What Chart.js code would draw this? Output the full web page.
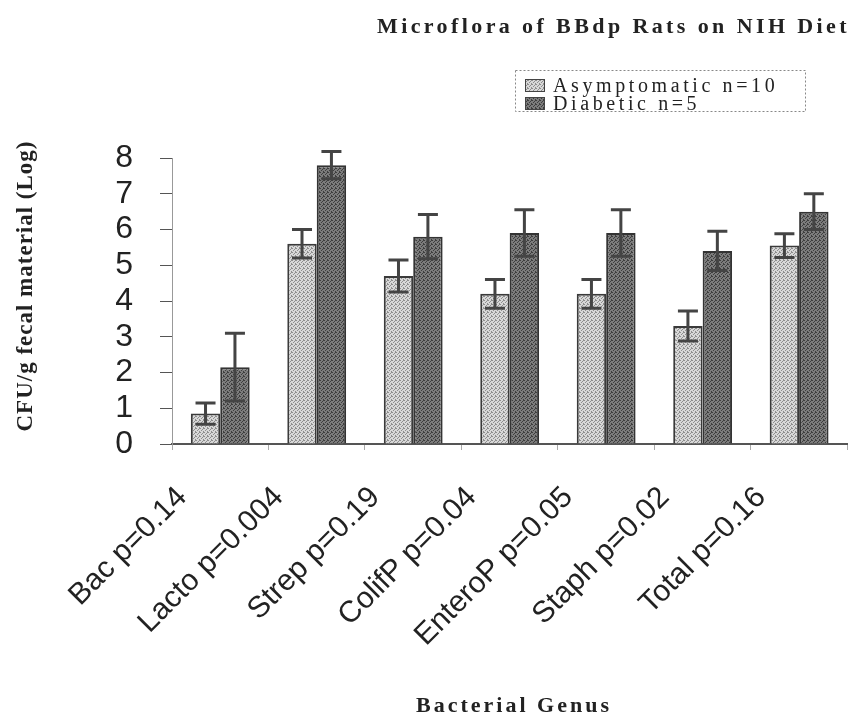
<!DOCTYPE html>
<html>
<head>
<meta charset="utf-8">
<script src="https://cdn.jsdelivr.net/npm/chart.js@4.4.0/dist/chart.umd.min.js"></script>
<style>
    html, body { margin: 0; padding: 0; background: #fff; }
</style>
</head>
<body>
<canvas id="grafico" width="855" height="722"></canvas>
<script>
// Dados
var categorias = ['Bac p=0.14', 'Lacto p=0.004', 'Strep p=0.19', 'ColifP p=0.04', 'EnteroP p=0.05', 'Staph p=0.02', 'Total p=0.16']
var assintomatico = [0.85, 5.6, 4.7, 4.2, 4.2, 3.3, 5.55]
var assintomaticoErro = [0.3, 0.4, 0.45, 0.4, 0.4, 0.42, 0.33]
var diabetico = [2.15, 7.8, 5.8, 5.9, 5.9, 5.4, 6.5]
var diabeticoErro = [0.95, 0.38, 0.62, 0.65, 0.65, 0.55, 0.5]
var escalaY = { min: 0, max: 8, passo: 1 }

var tituloGrafico = 'Microflora of BBdp Rats on NIH Diet'
var tituloX = 'Bacterial Genus'
var tituloY = 'CFU/g fecal material (Log)'
var legendas = ['Asymptomatic n=10', 'Diabetic n=5']

var canvas = document.getElementById('grafico')
var ctxGrafico = canvas.getContext('2d')

// Textura pontilhada das barras
function padrao(base, ponto) {
    let c = document.createElement('canvas')
    c.width = 4
    c.height = 4
    let ctx = c.getContext('2d')
    ctx.fillStyle = base
    ctx.fillRect(0, 0, 4, 4)
    ctx.fillStyle = ponto
    let pontos = [[0, 0], [2, 1], [1, 2], [3, 3], [3, 0]]
    pontos.forEach(p => ctx.fillRect(p[0], p[1], 1, 1))
    return ctxGrafico.createPattern(c, 'repeat')
}
var corClara = padrao('#d8d8d8', '#8e8e8e')
var corEscura = padrao('#7c7c7c', '#3e3e3e')

// Barras de erro (desenhadas pela escala y)
var barrasErro = {
    id: 'barrasErro',
    afterDatasetsDraw(chart) {
        let ctx = chart.ctx
        let y = chart.scales.y
        let erros = [assintomaticoErro, diabeticoErro]
        ctx.save()
        ctx.strokeStyle = '#444'
        ctx.lineWidth = 3
        chart.data.datasets.forEach((ds, i) => {
            let meta = chart.getDatasetMeta(i)
            meta.data.forEach((bar, j) => {
                let topo = y.getPixelForValue(ds.data[j] + erros[i][j])
                let base = y.getPixelForValue(ds.data[j] - erros[i][j])
                ctx.beginPath()
                ctx.moveTo(bar.x, base)
                ctx.lineTo(bar.x, topo)
                ctx.moveTo(bar.x - 10, topo)
                ctx.lineTo(bar.x + 10, topo)
                ctx.moveTo(bar.x - 10, base)
                ctx.lineTo(bar.x + 10, base)
                ctx.stroke()
            })
        })
        ctx.restore()
    }
}

// Títulos e legenda
var textos = {
    id: 'textos',
    afterDraw(chart) {
        let ctx = chart.ctx
        ctx.save()
        ctx.fillStyle = '#222'
        ctx.font = 'bold 22px "Liberation Serif", "Times New Roman", serif'
        ctx.letterSpacing = '3.4px'
        ctx.textAlign = 'right'
        ctx.textBaseline = 'alphabetic'
        ctx.fillText(tituloGrafico, 850, 33)
        ctx.letterSpacing = '3px'
        ctx.textAlign = 'center'
        ctx.fillText(tituloX, 514, 712)

        // Título do eixo y
        ctx.save()
        ctx.translate(26, 286)
        ctx.rotate(-Math.PI / 2)
        ctx.font = 'bold 23px "Liberation Serif", "Times New Roman", serif'
        ctx.letterSpacing = '1px'
        ctx.textBaseline = 'middle'
        ctx.fillText(tituloY, 0, 0)
        ctx.restore()

        // Legenda
        ctx.setLineDash([2, 2])
        ctx.strokeStyle = '#888'
        ctx.lineWidth = 1
        ctx.strokeRect(515.5, 70.5, 290, 41)
        ctx.setLineDash([])
        let cores = [corClara, corEscura]
        ctx.font = '20px "Liberation Serif", "Times New Roman", serif'
        ctx.letterSpacing = '3.6px'
        ctx.textAlign = 'left'
        legendas.forEach((txt, i) => {
            let yy = 79 + i * 18
            ctx.fillStyle = cores[i]
            ctx.fillRect(525, yy, 20, 13)
            ctx.strokeStyle = '#444'
            ctx.strokeRect(525.5, yy + 0.5, 19, 12)
            ctx.fillStyle = '#222'
            ctx.fillText(txt, 553, yy + 13)
        })
        ctx.restore()
    }
}

var fonteNum = '"Liberation Sans", Arial, sans-serif'

new Chart(ctxGrafico, {
    type: 'bar',
    data: {
        labels: categorias,
        datasets: [{
            label: legendas[0],
            data: assintomatico,
            backgroundColor: corClara,
            borderColor: '#3a3a3a',
            borderWidth: 2,
            categoryPercentage: 0.61,
            barPercentage: 1.0
        }, {
            label: legendas[1],
            data: diabetico,
            backgroundColor: corEscura,
            borderColor: '#333',
            borderWidth: 2,
            categoryPercentage: 0.61,
            barPercentage: 1.0
        }]
    },
    options: {
        responsive: false,
        animation: false,
        devicePixelRatio: 1,
        layout: { padding: { top: 158, left: 0, right: 6, bottom: 0 } },
        plugins: {
            legend: { display: false },
            title: { display: false },
            tooltip: { enabled: false }
        },
        scales: {
            x: {
                afterFit(scale) { scale.height = 278 },
                grid: { drawOnChartArea: false, offset: true, tickLength: 6, color: '#aaa' },
                border: { color: '#555', width: 2 },
                ticks: {
                    color: '#222',
                    font: { family: fonteNum, size: 30 },
                    minRotation: 45,
                    maxRotation: 45,
                    labelOffset: -38,
                    padding: 30,
                    autoSkip: false
                }
            },
            y: {
                min: escalaY.min,
                max: escalaY.max,
                afterFit(scale) { scale.width = 172 },
                grid: { drawOnChartArea: false, tickLength: 12, color: '#555' },
                border: { color: '#999', dash: [2, 3] },
                ticks: {
                    stepSize: escalaY.passo,
                    autoSkip: false,
                    color: '#222',
                    font: { family: fonteNum, size: 32, lineHeight: 1 },
                    padding: 27
                }
            }
        }
    },
    plugins: [barrasErro, textos]
})
</script>
</body>
</html>
